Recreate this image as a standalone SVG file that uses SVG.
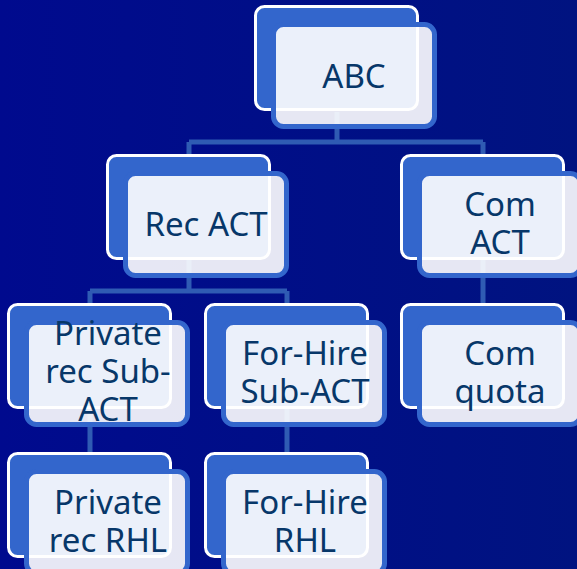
<svg xmlns="http://www.w3.org/2000/svg" width="577" height="569" viewBox="0 0 577 569">
  <defs>
    <linearGradient id="bg" x1="0" y1="0" x2="1" y2="0">
      <stop offset="0" stop-color="#000A8E"/>
      <stop offset="1" stop-color="#001380"/>
    </linearGradient>
  </defs>
  <style>
    .back { fill: #3366CC; stroke: #FFFFFF; stroke-width: 3; }
    .front { fill: #FFFFFF; fill-opacity: 0.9; stroke: #3366CC; stroke-width: 5; }
    .conn { fill: none; stroke: #2F5BB3; stroke-width: 5; }
    text { font-family: "Noto Sans", "Open Sans", "DejaVu Sans", sans-serif; font-size: 33px; fill: #073769; text-anchor: middle; }
  </style>
  <rect x="0" y="0" width="577" height="569" fill="url(#bg)"/>

  <g id="connectors">
    <path class="conn" d="M337 112 V142 M189 142 H483 M189 142 V154 M483 142 V154"/>
    <path class="conn" d="M189 260 V291 M90 291 H287 M90 291 V303 M287 291 V303"/>
    <path class="conn" d="M90 408 V452 M287 408 V452 M483 260 V303"/>
  </g>

  <g id="n-abc">
    <rect class="back" x="255.5" y="6.5" width="162" height="103" rx="9"/>
    <rect class="front" x="273.5" y="24.5" width="161" height="102" rx="10"/>
    <text x="354" y="88">ABC</text>
  </g>

  <g id="n-rec-act">
    <rect class="back" x="107.5" y="155.5" width="162" height="103" rx="9"/>
    <rect class="front" x="125.5" y="173.5" width="161" height="102" rx="10"/>
    <text x="206" y="236">Rec ACT</text>
  </g>

  <g id="n-com-act">
    <rect class="back" x="401.5" y="155.5" width="162" height="103" rx="9"/>
    <rect class="front" x="419.5" y="173.5" width="161" height="102" rx="10"/>
    <text x="500" y="216">Com</text>
    <text x="500" y="254">ACT</text>
  </g>

  <g id="n-private-sub">
    <rect class="back" x="8.5" y="304.5" width="162" height="103" rx="9"/>
    <rect class="front" x="26.5" y="322.5" width="161" height="102" rx="10"/>
    <text x="108" y="345">Private</text>
    <text x="108" y="383">rec Sub-</text>
    <text x="108" y="421">ACT</text>
  </g>

  <g id="n-forhire-sub">
    <rect class="back" x="205.5" y="304.5" width="162" height="103" rx="9"/>
    <rect class="front" x="223.5" y="322.5" width="161" height="102" rx="10"/>
    <text x="305" y="365">For-Hire</text>
    <text x="305" y="403">Sub-ACT</text>
  </g>

  <g id="n-com-quota">
    <rect class="back" x="401.5" y="304.5" width="162" height="103" rx="9"/>
    <rect class="front" x="419.5" y="322.5" width="161" height="102" rx="10"/>
    <text x="500" y="365">Com</text>
    <text x="500" y="403">quota</text>
  </g>

  <g id="n-private-rhl">
    <rect class="back" x="8.5" y="453.5" width="162" height="103" rx="9"/>
    <rect class="front" x="26.5" y="471.5" width="161" height="102" rx="10"/>
    <text x="108" y="514">Private</text>
    <text x="108" y="552">rec RHL</text>
  </g>

  <g id="n-forhire-rhl">
    <rect class="back" x="205.5" y="453.5" width="162" height="103" rx="9"/>
    <rect class="front" x="223.5" y="471.5" width="161" height="102" rx="10"/>
    <text x="305" y="514">For-Hire</text>
    <text x="305" y="552">RHL</text>
  </g>
</svg>
